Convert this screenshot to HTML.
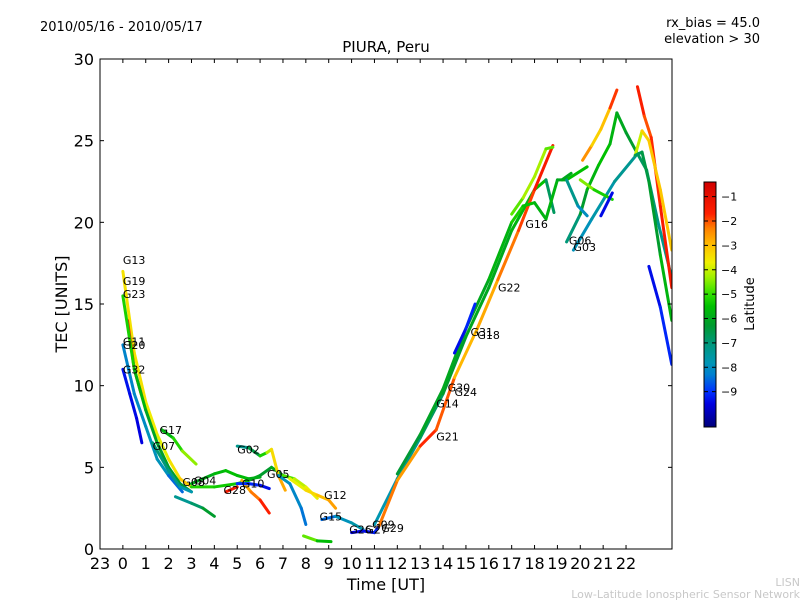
<!DOCTYPE html>
<html><head><meta charset="utf-8"><style>
html,body{margin:0;padding:0;background:#fff;}
svg{display:block;font-family:"DejaVu Sans","Liberation Sans",sans-serif;}
</style></head><body>
<svg id="chart" width="800" height="600" viewBox="0 0 800 600">
<rect width="800" height="600" fill="#fff"/>
<text x="40" y="31" font-size="13">2010/05/16 - 2010/05/17</text>
<text x="760" y="27" font-size="13" text-anchor="end">rx_bias = 45.0</text>
<text x="760" y="43" font-size="13" text-anchor="end">elevation &gt; 30</text>
<text x="386" y="52" font-size="15" text-anchor="middle">PIURA, Peru</text>
<text x="386" y="590" font-size="16" text-anchor="middle">Time [UT]</text>
<text transform="translate(67,304) rotate(-90)" font-size="16" text-anchor="middle">TEC [UNITS]</text>
<text transform="translate(754,304) rotate(-90)" font-size="13" text-anchor="middle">Latitude</text>
<text x="800" y="586" font-size="11" fill="#c8c8c8" text-anchor="end">LISN</text>
<text x="800" y="598" font-size="11" fill="#c8c8c8" text-anchor="end">Low-Latitude Ionospheric Sensor Network</text>
<defs><clipPath id="pc"><rect x="100" y="59" width="572" height="490"/></clipPath>
<linearGradient id="jet" x1="0" y1="1" x2="0" y2="0"></linearGradient></defs>
<g id="marks" clip-path="url(#pc)"></g>
<g id="labels"></g>
<rect x="100" y="59" width="572" height="490" fill="none" stroke="#000" stroke-width="1"/>
<g id="axes"></g>
<rect x="704" y="182" width="12" height="245" fill="url(#jet)" stroke="#000" stroke-width="1"/>
<g id="cbaxis"></g>
</svg>
<script>
const xTickLabels=["23","0","1","2","3","4","5","6","7","8","9","10","11","12","13","14","15","16","17","18","19","20","21","22"];
const yTickValues=[0,5,10,15,20,25,30];
const cbTickValues=[-1,-2,-3,-4,-5,-6,-7,-8,-9];
const trackHours=[
[0,0.5,1,1.5,2,2.5,3],
[0.2,0.5,0.8],
[0,0.5,1,1.5,2,2.5,3],
[0,0.5,1,1.5,2,2.6],
[0,0.3,0.6,0.83],
[1.3,2,2.5,3],
[1.7,2.2,2.6,3.2],
[2.3,3,3.5,4],
[3,3.5,4,4.5,5,5.5,6],
[3,4,5,5.5,6,6.5,7,7.5,8,8.5],
[4.5,5],
[5.2,5.6,6,6.4],
[5,5.5,6,6.4],
[5,5.5,6,6.3,6.5,6.8,7.1],
[6.8,7.3,7.8,8],
[7.3,8,8.5,9,9.3],
[7.9,8.5,9.1],
[8.7,9.3,10,10.5],
[10,10.5,11,11.2],
[11,12,13,14,15,16,17,18,18.5,18.85],
[11.2,12,13,13.7,14.5,15.5,16.4,17.3,18,18.8],
[12,13,14,15,16,17,17.5,18,18.5,19,19.4,20.3],
[14.5,15,15.4],
[17,17.5,18,18.5,18.8],
[19.4,20,20.3,20.8,21.3,21.6,22,22.5,22.9,23.4,24],
[19.7,20.5,21.5,22.5],
[20.1,20.5,20.9,21.3,21.6],
[22.5,22.8,23.1,23.5,24],
[22.4,22.7,23,23.5,24],
[22.4,22.7,23,23.5,24],
[23,23.5,24],
[20,20.6,21.4],
[19.4,19.9,20.3],
[20.9,21.4],
[19.2,19.6]
];
const trackTEC=[
[17,12,9,7,5.5,4.3,3.8],
[14,11,9.5],
[15.5,11,8.5,6.5,5,4,3.5],
[12.5,9.5,7.5,5.5,4.5,3.5],
[11,9.5,8,6.5],
[6.5,4.8,3.8,3.5],
[7.3,6.8,6,5.2],
[3.2,2.8,2.5,2],
[4,4.3,4.6,4.8,4.5,4.3,4.4],
[3.8,3.8,4,4.2,4.5,5,4.5,4.3,3.8,3.1],
[3.5,3.8],
[4.2,3.5,3,2.2],
[4,4,3.9,3.7],
[6.3,6.2,5.7,5.9,6.1,4.5,3.6],
[4.5,4,2.5,1.5],
[4.3,3.6,3.3,3,2.5],
[0.8,0.5,0.45],
[1.8,2,1.6,1.2],
[1,1.1,1,1.4],
[1.5,4.3,6.8,9.5,13,16,19.5,22,22.6,20.6],
[1.4,4.2,6.3,7.3,10.5,13.5,16.5,19.5,22,24.7],
[4.6,7,9.8,13.5,16.5,20,21,21.2,20.2,22.6,22.6,23.4],
[12,13.5,15],
[20.5,21.5,22.8,24.5,24.6],
[18.8,20.5,22,23.5,24.8,26.7,25.5,24.2,23.2,20,16.6],
[18.3,20.2,22.5,24.2],
[23.8,24.7,25.7,27,28.1],
[28.3,26.5,25.2,21,16],
[24.1,25.6,25,22,18.3],
[24.1,24.3,22.5,18,14],
[17.3,14.8,11.3],
[22.6,22,21.4],
[22.6,21,20.4],
[20.4,21.8],
[22.6,23]
];
const trackLat=[
[-3.5,-3.5,-3.5,-3.8,-3.8,-3.2,-3],
[-1.5,-1.5,-1.3],
[-5,-5.5,-6,-6.2,-6.2,-6.2,-6.5],
[-8.2,-8.2,-8,-7.8,-8,-9],
[-9.3,-9.3,-9.5,-9.5],
[-7,-7,-7.5,-8],
[-6,-5.5,-4.8,-4],
[-7.5,-7.2,-6.5,-6],
[-6,-6,-5.8,-5.5,-5.5,-5.7,-6],
[-5.2,-5.2,-5.5,-5.8,-6,-6.5,-5.5,-4.2,-4,-3.5],
[-1.5,-1.5],
[-3,-2.5,-2,-1.3],
[-9,-9,-9.2,-9.5],
[-7.5,-7,-6,-4.5,-3.8,-3,-2.5],
[-7.8,-8,-8.3,-8.5],
[-4,-3.5,-3.2,-2.8,-2.5],
[-4.2,-5.2,-6],
[-9,-8,-7.8,-7.5],
[-9.5,-9.5,-9.3,-9],
[-8,-7.5,-7,-6.5,-6,-6,-6,-5.5,-5.5,-8],
[-1.5,-3,-2.2,-1.3,-2.8,-3,-2.5,-2,-1.8,-1.2],
[-6.5,-6.2,-6,-6,-6,-5.5,-5,-6,-5.5,-6,-6,-5],
[-9.5,-9.2,-9],
[-5,-4.5,-4,-4.5,-5],
[-7.5,-6.5,-6,-5.5,-5.5,-6,-6,-6.5,-7,-7,-7.5],
[-8,-7.8,-7.5,-7.2],
[-2,-3,-3.5,-2.5,-1.2],
[-1.2,-2,-2,-1.5,-1.5],
[-4.5,-3.5,-3,-3.2,-3],
[-7,-6.5,-6.5,-6,-5.5],
[-9.5,-9.2,-9],
[-4,-5,-5.5],
[-7,-7.5,-8.5],
[-9.5,-9.3],
[-6,-6]
];
const labelNames=["G13","G19","G23","G11","G20","G32","G17","G07","G08","G04","G28","G10","G02","G05","G12","G15","G26","G27","G09","G29","G21","G14","G30","G24","G31","G18","G22","G16","G06","G03"];
const labelHours=[0,0,0,0,0,0,1.6,1.3,2.6,3.1,4.4,5.2,5.0,6.3,8.8,8.6,9.9,10.6,10.9,11.3,13.7,13.7,14.2,14.5,15.2,15.5,16.4,17.6,19.5,19.7];
const labelTEC=[17.7,16.4,15.6,12.7,12.5,11.0,7.3,6.3,4.1,4.2,3.6,4.0,6.1,4.6,3.3,2.0,1.2,1.2,1.5,1.3,6.9,8.9,9.9,9.6,13.3,13.1,16.0,19.9,18.9,18.5];

const NS="http://www.w3.org/2000/svg";
const X0=100,X1=672,XMIN=-1,XMAX=24.01,Y0=549,Y1=59,YMIN=0,YMAX=30;
function xScale(h){return X0+(h-XMIN)/(XMAX-XMIN)*(X1-X0);}
function yScale(v){return Y0-(v-YMIN)/(YMAX-YMIN)*(Y0-Y1);}
const CB0=427,CB1=182,LMIN=-10.45,LMAX=-0.4;
function cbScale(l){return CB0-(l-LMIN)/(LMAX-LMIN)*(CB0-CB1);}
const cmapStops=[[-10.45,[0,0,122]],[-9.5,[0,0,224]],[-9,[0,48,255]],[-8.3,[0,128,208]],[-7.8,[0,150,180]],[-7,[0,152,120]],[-6.3,[0,154,48]],[-5.5,[0,192,0]],[-5,[48,224,0]],[-4.3,[160,240,0]],[-3.7,[240,240,0]],[-3,[255,192,0]],[-2.3,[255,128,0]],[-1.7,[255,32,0]],[-0.4,[208,0,0]]];
function jet(l){
  l=Math.max(LMIN,Math.min(LMAX,l));
  for(let i=0;i<cmapStops.length-1;i++){
    const a=cmapStops[i],b=cmapStops[i+1];
    if(l<=b[0]){const t=(l-a[0])/(b[0]-a[0]);
      const c=a[1].map((v,k)=>Math.round(v+(b[1][k]-v)*t));return `rgb(${c[0]},${c[1]},${c[2]})`;}
  }
  return 'rgb(208,0,0)';
}
const grad=document.getElementById('jet');
cmapStops.forEach(s=>{const st=document.createElementNS(NS,'stop');st.setAttribute('offset',(s[0]-LMIN)/(LMAX-LMIN));st.setAttribute('stop-color',`rgb(${s[1].join(',')})`);grad.appendChild(st);});
const marks=document.getElementById('marks');
trackHours.forEach((hs,i)=>{
  const g=document.createElementNS(NS,'g');
  
  
  for(let k=0;k<hs.length-1;k++){
    const ln=document.createElementNS(NS,'line');
    ln.setAttribute('x1',xScale(hs[k]));ln.setAttribute('y1',yScale(trackTEC[i][k]));
    ln.setAttribute('x2',xScale(hs[k+1]));ln.setAttribute('y2',yScale(trackTEC[i][k+1]));
    ln.setAttribute('stroke',jet((trackLat[i][k]+trackLat[i][k+1])/2));
    ln.setAttribute('stroke-width','3');ln.setAttribute('stroke-linecap','round');
    
    
    g.appendChild(ln);
  }
  marks.appendChild(g);
});
const labels=document.getElementById('labels');
labelNames.forEach((n,i)=>{
  const t=document.createElementNS(NS,'text');
  t.setAttribute('x',xScale(labelHours[i]));t.setAttribute('y',yScale(labelTEC[i])+4);
  t.setAttribute('font-size','11');t.textContent=n;
  
  
  labels.appendChild(t);
});
const axes=document.getElementById('axes');
function add(parent,tag,attrs,txt){const e=document.createElementNS(NS,tag);for(const k in attrs)e.setAttribute(k,attrs[k]);if(txt!==undefined)e.textContent=txt;parent.appendChild(e);return e;}
xTickLabels.forEach((lab,i)=>{
  const x=xScale(i-1);
  let e=add(axes,'line',{x1:x,y1:Y0,x2:x,y2:Y0-4,stroke:'#000'});
  
  e=add(axes,'line',{x1:x,y1:Y1,x2:x,y2:Y1+4,stroke:'#000'});
  
  e=add(axes,'text',{x:x,y:Y0+20,'font-size':16,'text-anchor':'middle'},lab);
  
});
yTickValues.forEach(v=>{
  const y=yScale(v);
  let e=add(axes,'line',{x1:X0,y1:y,x2:X0+4,y2:y,stroke:'#000'});
  
  e=add(axes,'line',{x1:X1,y1:y,x2:X1-4,y2:y,stroke:'#000'});
  
  e=add(axes,'text',{x:X0-6,y:y+6,'font-size':16,'text-anchor':'end'},String(v));
  
});
const cb=document.getElementById('cbaxis');
cbTickValues.forEach(v=>{
  const y=cbScale(v);
  let e=add(cb,'line',{x1:712,y1:y,x2:716,y2:y,stroke:'#000'});
  
  e=add(cb,'line',{x1:704,y1:y,x2:708,y2:y,stroke:'#000'});
  
  e=add(cb,'text',{x:721,y:y+4,'font-size':11},'\u2212'+Math.abs(v));
  
});
</script>
</body></html>
